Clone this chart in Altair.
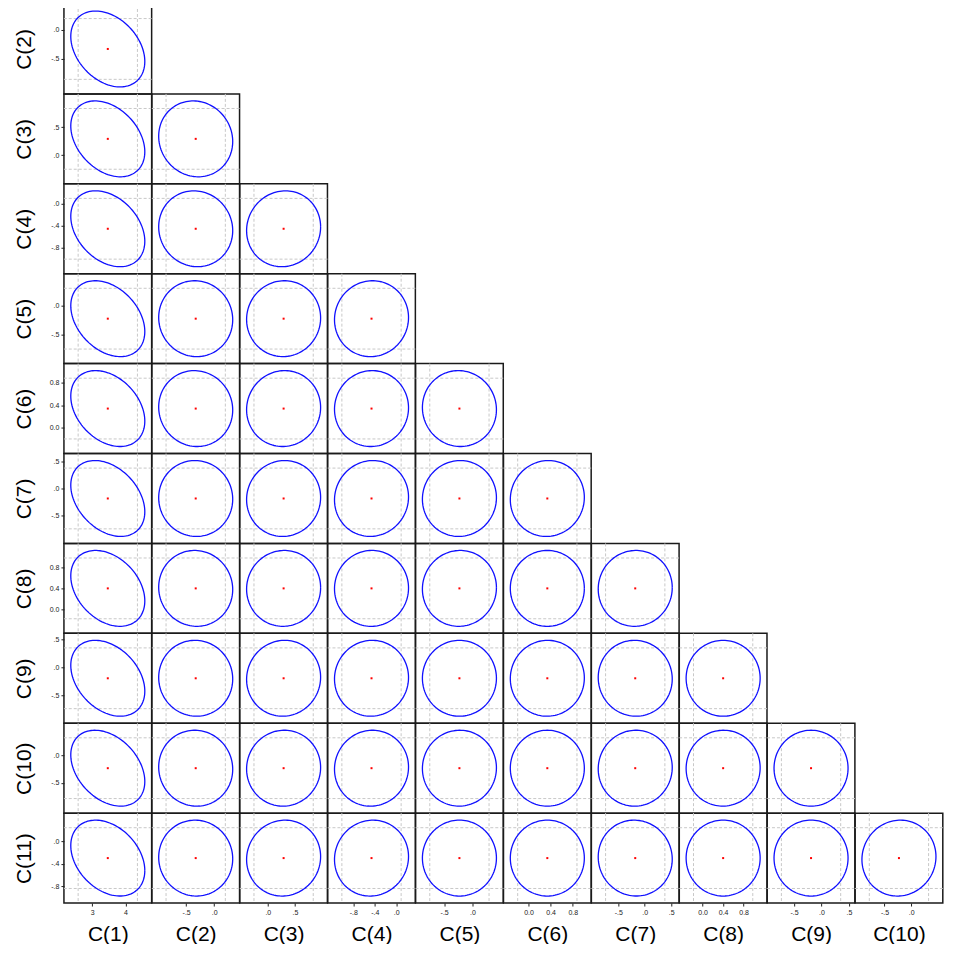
import altair as alt
import numpy as np
import pandas as pd

# ---- data ----
names = ["C(1)", "C(2)", "C(3)", "C(4)", "C(5)", "C(6)", "C(7)", "C(8)", "C(9)", "C(10)", "C(11)"]
means = [3.47, -0.33, 0.29, -0.46, -0.23, 0.34, -0.18, 0.40, -0.19, -0.23, -0.30]
ses = [0.454, 0.269, 0.278, 0.283, 0.268, 0.273, 0.286, 0.295, 0.276, 0.283, 0.273]
tick_values = [
    [3, 4], [0, -0.5], [0.5, 0], [0, -0.4, -0.8], [0, -0.5], [0.8, 0.4, 0.0],
    [0.5, 0, -0.5], [0.8, 0.4, 0.0], [0.5, 0, -0.5], [0, -0.5], [0, -0.4, -0.8],
]
tick_labels = [
    ["3", "4"], [".0", "-.5"], [".5", ".0"], [".0", "-.4", "-.8"], [".0", "-.5"],
    ["0.8", "0.4", "0.0"], [".5", ".0", "-.5"], ["0.8", "0.4", "0.0"],
    [".5", ".0", "-.5"], [".0", "-.5"], [".0", "-.4", "-.8"],
]
# correlation of C(k+1) with C(1)..C(k)
corr_rows = [
    [-0.33],
    [-0.34, -0.07],
    [-0.33, -0.05, 0.05],
    [-0.34, -0.03, 0.02, 0.03],
    [-0.33, -0.04, 0.03, 0.02, -0.03],
    [-0.35, -0.02, 0.03, 0.04, 0.02, 0.03],
    [-0.33, -0.03, 0.02, 0.01, 0.02, 0.00, 0.02],
    [-0.34, -0.02, 0.03, 0.02, 0.00, 0.01, -0.02, 0.00],
    [-0.35, -0.03, 0.02, 0.03, 0.01, 0.00, 0.02, 0.01, 0.00],
    [-0.33, -0.02, 0.04, 0.04, 0.00, 0.00, -0.03, 0.00, 0.00, 0.04],
]

CONF_R = float(np.sqrt(5.991))  # 95% joint region, 2 d.f.
Z = 1.96                         # individual 95% intervals
HALF = 2.9                       # panel half-range in s.e. units

# ---- derived tables ----
angles = np.deg2rad(np.arange(0, 361, 3))
ell_rows, pair_rows = [], []
n = len(names)
for j in range(1, n):
    for i in range(j):
        r = corr_rows[j - 1][i]
        key = f"{i}-{j}"
        xs = means[i] + CONF_R * ses[i] * np.cos(angles)
        ys = means[j] + CONF_R * ses[j] * (r * np.cos(angles) + np.sqrt(1 - r * r) * np.sin(angles))
        for t, (a, b) in enumerate(zip(xs, ys)):
            ell_rows.append({"pair": key, "t": t, "x": a, "y": b})
        pair_rows.append({
            "pair": key, "cx": means[i], "cy": means[j],
            "xlo": means[i] - Z * ses[i], "xhi": means[i] + Z * ses[i],
            "ylo": means[j] - Z * ses[j], "yhi": means[j] + Z * ses[j],
        })
ell = pd.DataFrame(ell_rows)
pairs = pd.DataFrame(pair_rows)
blank_data = pd.DataFrame({"a": [0]})

FONT = "Liberation Sans"
PW = 87.8
PH = 90


def label_expr(vals, labs):
    parts = [f"abs(datum.value - ({v})) < 1e-9 ? '{l}'" for v, l in zip(vals, labs)]
    return " : ".join(parts) + " : ''"


def make_axis(k, orient):
    common = dict(
        values=tick_values[k], labelExpr=label_expr(tick_values[k], tick_labels[k]),
        title=names[k], titleFont=FONT, titleFontSize=21, titleFontWeight="normal",
        titleColor="black", labelFont=FONT, labelFontSize=7, labelColor="#222",
        tickColor="#222", tickSize=3, labelPadding=2, domain=False, grid=False,
        labelFlush=False, labelOverlap=False,
    )
    if orient == "y":
        return alt.Axis(minExtent=20, maxExtent=20, titlePadding=9, **common)
    return alt.Axis(minExtent=12, maxExtent=12, titlePadding=8, **common)


def panel(i, j, show_x, show_y):
    key = f"{i}-{j}"
    xs = alt.Scale(domain=[means[i] - HALF * ses[i], means[i] + HALF * ses[i]], nice=False, zero=False)
    ys = alt.Scale(domain=[means[j] - HALF * ses[j], means[j] + HALF * ses[j]], nice=False, zero=False)
    xa = make_axis(i, "x") if show_x else None
    ya = make_axis(j, "y") if show_y else None

    ellipse = alt.Chart(ell).transform_filter(alt.datum.pair == key).mark_line(
        color="#1010ff", strokeWidth=1.3
    ).encode(
        x=alt.X("x:Q", scale=xs, axis=xa),
        y=alt.Y("y:Q", scale=ys, axis=ya),
        order=alt.Order("t:Q"),
    )
    pbase = alt.Chart(pairs).transform_filter(alt.datum.pair == key)
    vlines = pbase.transform_fold(["xlo", "xhi"], as_=["k", "v"]).mark_rule(
        color="#c8c8c8", strokeDash=[3, 2], strokeWidth=1
    ).encode(x=alt.X("v:Q", scale=xs, axis=xa))
    hlines = pbase.transform_fold(["ylo", "yhi"], as_=["k", "v"]).mark_rule(
        color="#c8c8c8", strokeDash=[3, 2], strokeWidth=1
    ).encode(y=alt.Y("v:Q", scale=ys, axis=ya))
    center = pbase.mark_square(color="red", size=4, opacity=1).encode(
        x=alt.X("cx:Q", scale=xs, axis=xa),
        y=alt.Y("cy:Q", scale=ys, axis=ya),
    )
    return alt.layer(vlines, hlines, ellipse, center).properties(width=PW, height=PH)


def blank():
    return alt.Chart(blank_data).mark_point(opacity=0).encode(
        x=alt.X("a:Q", axis=None), y=alt.Y("a:Q", axis=None)
    ).properties(width=PW, height=PH, view=alt.ViewBackground(stroke="transparent"))


cells = []
ncols = n - 1
for j in range(1, n):
    for i in range(ncols):
        if i < j:
            cells.append(panel(i, j, show_x=(j == n - 1), show_y=(i == 0)))
        else:
            cells.append(blank())

chart = alt.concat(*cells, columns=ncols, spacing=0, bounds="flush").resolve_scale(
    x="independent", y="independent"
).properties(
    padding={"left": 5, "top": -6.5, "right": 0, "bottom": -2}
).configure_view(
    stroke="#1a1a1a", strokeWidth=1.5
)

chart.save("out.html", embed_options={"renderer": "svg", "actions": False})
